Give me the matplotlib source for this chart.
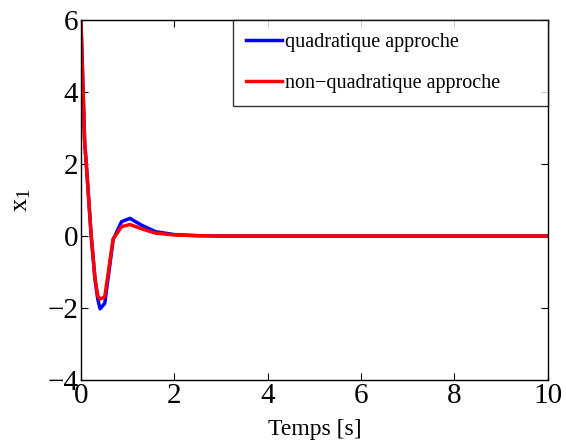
import matplotlib
matplotlib.use('Agg')
import matplotlib.pyplot as plt

# sample times and state x1 for both approaches
t = [0, 0.04, 0.08, 0.12, 0.22, 0.3, 0.36, 0.41, 0.51, 0.69, 0.87, 1.05,
     1.3, 1.6, 2.0, 2.5, 3, 4, 5, 6, 7, 8, 9, 10]
x1_quad = [6, 4.3, 2.6, 1.9, 0, -1.2, -1.75, -2.02, -1.87, -0.1, 0.4, 0.49,
           0.3, 0.12, 0.04, 0.01, 0, 0, 0, 0, 0, 0, 0, 0]
x1_nonquad = [6, 4.3, 2.6, 1.9, 0, -1.15, -1.66, -1.75, -1.69, -0.08, 0.26,
              0.32, 0.2, 0.08, 0.03, 0.01, 0, 0, 0, 0, 0, 0, 0, 0]

labels = ['quadratique approche', 'non\u2212quadratique approche']
xticks = [0, 2, 4, 6, 8, 10]
yticks = [-4, -2, 0, 2, 4, 6]

plt.rcParams['font.family'] = ['Liberation Serif', 'DejaVu Serif']
plt.rcParams['mathtext.fontset'] = 'custom'
plt.rcParams['mathtext.rm'] = 'Liberation Serif'

fig = plt.figure(figsize=(5.66, 4.43), dpi=100)
ax = fig.add_axes([0.143, 0.142, 0.825, 0.813])

ax.plot(t, x1_quad, color='#0000ff', lw=2.5, label=labels[0])
ax.plot(t, x1_nonquad, color='#ff0000', lw=2.5, label=labels[1])

ax.set_xlim(0, 10)
ax.set_ylim(-4, 6)
ax.set_xticks(xticks)
ax.set_yticks(yticks)
ax.set_yticklabels([str(v).replace('-', '\u2212') for v in yticks])
ax.tick_params(direction='in', top=True, right=True, labelsize=21, length=5,
               pad=2)
for s in ax.spines.values():
    s.set_linewidth(1.0)

ax.set_xlabel('Temps [s]', fontsize=17, labelpad=7)
ax.set_ylabel(r'$\mathregular{x_1}$', fontsize=19, labelpad=10)

# MATLAB-style legend box with extra room on the right
leg = ax.legend(loc='upper left', bbox_to_anchor=(0.325, 0.5, 0.675, 0.5),
                mode='expand', fontsize=14.5, borderaxespad=0,
                fancybox=False, edgecolor='black', handlelength=1.8,
                handletextpad=0.15, borderpad=0.65, labelspacing=1.1)
leg.get_frame().set_linewidth(1.0)
for line in leg.get_lines():
    line.set_linewidth(2.5)

fig.savefig('out.png', dpi=100)
